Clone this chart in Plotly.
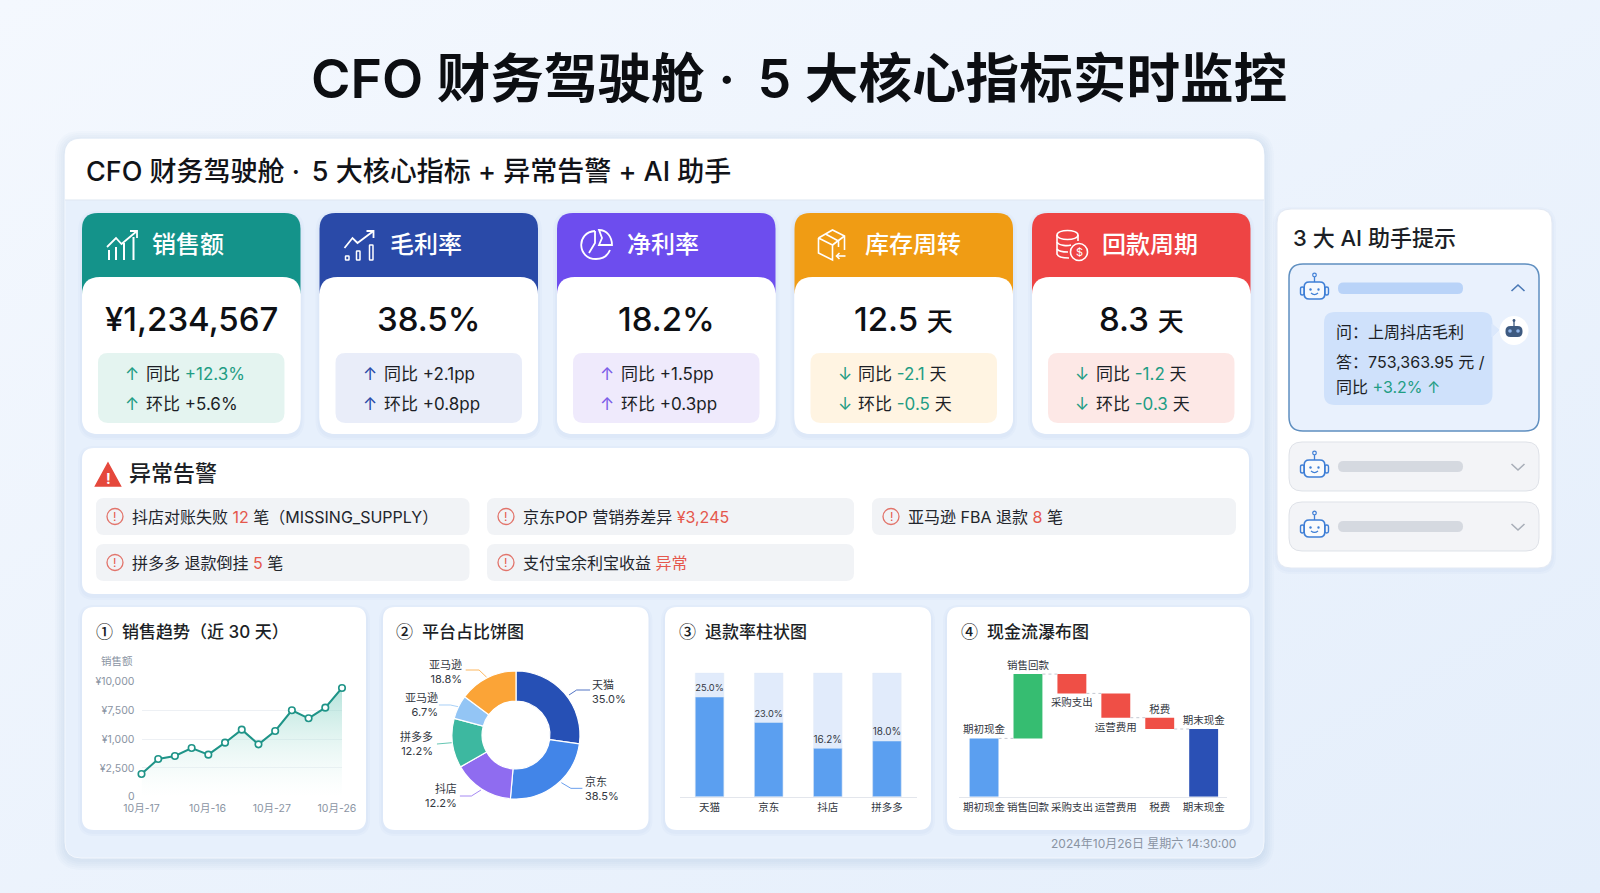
import base64

import numpy as np
import plotly.graph_objects as go

W = 1600
H = 893
FONT = "Inter, Noto Sans CJK SC"
INK = "#1c1f26"
GRAY = "#8a94a3"
GREEN = "#1f9d84"
RED = "#e5574c"

# KPI cards
kpi_names = ["销售额", "毛利率", "净利率", "库存周转", "回款周期"]
kpi_values = ["¥1,234,567", "38.5%", "18.2%", "12.5", "8.3"]
kpi_units = ["", "", "", "天", "天"]
kpi_arrows = ["↑", "↑", "↑", "↓", "↓"]
kpi_yoy = ["+12.3%", "+2.1pp", "+1.5pp", "-2.1", "-1.2"]
kpi_mom = ["+5.6%", "+0.8pp", "+0.3pp", "-0.5", "-0.3"]
kpi_head_colors = ["#14938a", "#2a4aa8", "#6d4dee", "#f09c14", "#ee4444"]
kpi_box_colors = ["#e4f4f0", "#e9edf9", "#efeafc", "#fff4e2", "#fde8e6"]
kpi_arrow_colors = ["#1f9d84", "#2a4aa8", "#7c5ce8", "#1f9d84", "#1f9d84"]

# sales trend
sales_values = [1965, 3266, 3526, 4220, 3642, 4682, 5809, 4538, 5694, 7486, 6792, 7717, 9422]
sales_ticks = [0, 2500, 5000, 7500, 10000]
sales_ticktext = ["0", "¥2,500", "¥1,000", "¥7,500", "¥10,000"]
sales_xticks = [0, 3.95, 7.8, 11.7]
sales_xlabels = ["10月-17", "10月-16", "10月-27", "10月-26"]

# platform donut: slice sizes as drawn, labels as printed
platform_names = ["天猫", "京东", "抖店", "拼多多", "亚马逊", "亚马逊"]
platform_slices = [27.2, 24.2, 15.3, 12.5, 6.0, 14.8]
platform_labels = ["35.0%", "38.5%", "12.2%", "12.2%", "6.7%", "18.8%"]
platform_colors = ["#2650b5", "#4285e8", "#8f6cf0", "#3db8a0", "#93c5f5", "#fba437"]

# refund bars: bar height as drawn (percent of track), labels as printed
refund_names = ["天猫", "京东", "抖店", "拼多多"]
refund_drawn = [80.4, 59.9, 39.0, 44.9]
refund_track = [100, 100, 100, 100]
refund_labels = ["25.0%", "23.0%", "16.2%", "18.0%"]

# cash waterfall
cash_names = ["期初现金", "销售回款", "采购支出", "运营费用", "税费", "期末现金"]
cash_steps = [58.3, 64.3, -19.3, -24.3, -11.3, 67.7]
cash_colors = ["#5b9ff0", "#36bd71", "#ef4f46", "#ef4f46", "#ef4f46", "#2a50b5"]
cash_label_pos = ["top center", "top center", "bottom center", "bottom center", "top center", "top center"]


def px(x):
    return x / W


def py(y):
    return 1 - y / H


def P(x, y):
    return f"{px(x):.5f},{py(y):.5f}"


shapes = []
notes = []


def rr_path(x0, y0, x1, y1, r):
    return (f"M{P(x0 + r, y0)} L{P(x1 - r, y0)} Q{P(x1, y0)} {P(x1, y0 + r)} "
            f"L{P(x1, y1 - r)} Q{P(x1, y1)} {P(x1 - r, y1)} L{P(x0 + r, y1)} "
            f"Q{P(x0, y1)} {P(x0, y1 - r)} L{P(x0, y0 + r)} Q{P(x0, y0)} {P(x0 + r, y0)} Z")


def add_path(path, fill="rgba(0,0,0,0)", line=None, width=0):
    shapes.append(dict(type="path", path=path, xref="paper", yref="paper", layer="below",
                       fillcolor=fill, line=dict(color=line or "rgba(0,0,0,0)", width=width)))


def rrect(x0, y0, x1, y1, r, fill, line=None, width=0):
    add_path(rr_path(x0, y0, x1, y1, r), fill, line, width)


def shadow(x0, y0, x1, y1, r, spread=6, alpha=0.025):
    for i in range(spread, 0, -2):
        rrect(x0 - i, y0 - i + 2, x1 + i, y1 + i + 2, r + i, f"rgba(60,100,170,{alpha})")


def polyline(points, color, width=1.5, closed=False, fill="rgba(0,0,0,0)"):
    path = "M" + " L".join(P(a, b) for a, b in points) + (" Z" if closed else "")
    add_path(path, fill, color, width)


def circle(cx, cy, r, fill="rgba(0,0,0,0)", line=None, width=0):
    shapes.append(dict(type="circle", xref="paper", yref="paper", layer="below",
                       x0=px(cx - r), x1=px(cx + r), y0=py(cy + r), y1=py(cy - r),
                       fillcolor=fill, line=dict(color=line or "rgba(0,0,0,0)", width=width)))


def label(x, y, text, size, color=INK, anchor="left", weight=400):
    notes.append(dict(xref="paper", yref="paper", x=px(x), y=py(y), text=text, showarrow=False,
                      xanchor=anchor, yanchor="middle", align=anchor, borderpad=0,
                      font=dict(family=FONT, size=size, color=color, weight=weight)))


def robot(cx, cy, color="#3f7fd6"):
    rrect(cx - 10.3, cy - 6, cx + 10.3, cy + 11, 5, "rgba(255,255,255,0.6)", color, 1.6)
    polyline([(cx, cy - 6), (cx, cy - 11)], color, 1.3)
    circle(cx, cy - 13, 1.8, "rgba(0,0,0,0)", color, 1.2)
    rrect(cx - 14, cy - 1, cx - 10.3, cy + 7, 1.8, "rgba(0,0,0,0)", color, 1.4)
    rrect(cx + 10.3, cy - 1, cx + 14, cy + 7, 1.8, "rgba(0,0,0,0)", color, 1.4)
    circle(cx - 4, cy + 1.5, 1.2, color)
    circle(cx + 4, cy + 1.5, 1.2, color)
    add_path(f"M{P(cx - 3.5, cy + 5)} Q{P(cx, cy + 8)} {P(cx + 3.5, cy + 5)}", line=color, width=1.2)


def icon_sales(x):
    c = "white"
    for dx, top in zip([27, 34, 42, 51.5], [250, 247, 243, 237]):
        polyline([(x + dx, top), (x + dx, 260)], c, 2)
    polyline([(x + 25, 247), (x + 34, 238), (x + 39.5, 244), (x + 55, 231)], c, 1.8)
    polyline([(x + 48, 231), (x + 55, 231), (x + 55, 238)], c, 1.8)


def icon_margin(x):
    c = "white"
    for dx, top in zip([26, 37, 50], [256, 251, 245]):
        rrect(x + dx, top, x + dx + 3.5, 260, 0.5, "rgba(0,0,0,0)", c, 1.5)
    polyline([(x + 25, 248), (x + 33, 238), (x + 38, 243), (x + 54, 231)], c, 1.8)
    polyline([(x + 47, 231), (x + 54, 231), (x + 54, 238)], c, 1.8)


def icon_pie(x):
    c = "white"
    cx = x + 39
    add_path(f"M{P(cx - 1, 231)} C{P(cx - 20, 232)} {P(cx - 19, 259)} {P(cx, 259)} "
             f"C{P(cx + 7, 259)} {P(cx + 12, 255)} {P(cx + 14, 250)}", line=c, width=1.8)
    polyline([(cx - 1, 231), (cx - 1, 243), (cx - 7, 253)], c, 1.8)
    add_path(f"M{P(cx + 3, 230)} C{P(cx + 11, 230)} {P(cx + 16, 237)} {P(cx + 16, 245)} "
             f"L{P(cx + 3, 245)} L{P(cx + 6, 238)} Z", line=c, width=1.8)


def icon_box(x):
    c = "white"
    polyline([(x + 24, 238), (x + 38, 230), (x + 50, 236), (x + 50, 250)], c, 1.6)
    polyline([(x + 24, 238), (x + 24, 253), (x + 38, 260), (x + 38, 245), (x + 24, 238)], c, 1.6)
    polyline([(x + 38, 245), (x + 50, 236)], c, 1.6)
    polyline([(x + 31, 234), (x + 44, 241), (x + 44, 247)], c, 1.6)
    polyline([(x + 42, 256), (x + 51, 256)], c, 1.6)
    polyline([(x + 45, 253), (x + 42, 256), (x + 45, 259)], c, 1.6)


def icon_coins(x):
    c = "white"
    left = x + 25
    add_path(f"M{P(left, 235)} C{P(left, 229)} {P(left + 21, 229)} {P(left + 21, 235)} "
             f"C{P(left + 21, 241)} {P(left, 241)} {P(left, 235)} Z", line=c, width=1.6)
    add_path(f"M{P(left, 242)} C{P(left + 2, 246)} {P(left + 11, 246)} {P(left + 14, 245)}", line=c, width=1.6)
    add_path(f"M{P(left, 249)} C{P(left + 2, 252)} {P(left + 8, 252)} {P(left + 11, 252)}", line=c, width=1.6)
    add_path(f"M{P(left, 235)} L{P(left, 254)} C{P(left + 1, 257)} {P(left + 7, 258)} {P(left + 12, 258)}",
             line=c, width=1.6)
    polyline([(left + 21, 235), (left + 21, 241)], c, 1.6)
    circle(left + 22, 252, 8.5, "rgba(0,0,0,0)", c, 1.6)
    label(left + 22, 252, "$", 11, "white", "center")


kpi_icons = [icon_sales, icon_margin, icon_pie, icon_box, icon_coins]

# page title and main panel
label(799, 78.5, "CFO 财务驾驶舱 ·\u2009 5 大核心指标实时监控", 53.6, "#0c0e12", "center", 600)
shadow(65, 139, 1264, 858, 16, spread=10, alpha=0.02)
rrect(65, 139, 1264, 858, 16, "#e7f0fc", "#f3f7fd", 1)
add_path(f"M{P(65, 200)} L{P(65, 155)} Q{P(65, 139)} {P(81, 139)} L{P(1248, 139)} "
         f"Q{P(1264, 139)} {P(1264, 155)} L{P(1264, 200)} Z", "white")
polyline([(65, 200), (1264, 200)], "#dfe7f2", 1)
label(85, 171.5, "CFO 财务驾驶舱 ·\u2009 5 大核心指标 + 异常告警 + AI 助手", 27, "#111318", "left", 500)

# KPI cards
for i, name in enumerate(kpi_names):
    x0 = 82 + i * 237.5
    x1 = x0 + 218.5
    shadow(x0, 213, x1, 434, 16, spread=4)
    rrect(x0, 277, x1, 434, 16, "white")
    rrect(x0, 213, x1, 305, 16, kpi_head_colors[i])
    rrect(x0, 277, x1, 434, 18, "white")
    kpi_icons[i](x0)
    label(x0 + 69, 245, name, 24, "white", "left", 500)
    value = kpi_values[i]
    if kpi_units[i]:
        value += f' <span style="font-size:26px">{kpi_units[i]}</span>'
    label(x0 + 109, 319, value, 33, "#0e1014", "center", 500)
    rrect(x0 + 16, 353, x0 + 202.5, 423, 10, kpi_box_colors[i])
    unit = " 天" if kpi_units[i] else ""
    first_color = GREEN if i in (0, 3, 4) else INK
    second_color = GREEN if i in (3, 4) else INK
    for y, tag, val, col in [(374, "同比", kpi_yoy[i], first_color), (404, "环比", kpi_mom[i], second_color)]:
        label(x0 + 50, y, kpi_arrows[i], 17, kpi_arrow_colors[i], "center")
        label(x0 + 63, y, f'{tag} <span style="color:{col}">{val}</span>{unit}', 17)

# alerts
shadow(82, 448, 1249, 594, 12, spread=4)
rrect(82, 448, 1249, 594, 12, "white")
polyline([(108, 463), (120.5, 486), (95.5, 486)], "#e5483c", 1.5, True, "#e5483c")
label(108, 478, "!", 14, "white", "center", 700)
label(128, 473, "异常告警", 22, INK, "left", 500)
alert_rows = [
    (96, 469.5, 498, 535, '抖店对账失败 <span style="color:#e5574c">12</span> 笔（MISSING_SUPPLY）'),
    (487, 854, 498, 535, '京东POP 营销券差异 <span style="color:#e5574c">¥3,245</span>'),
    (872, 1236, 498, 535, '亚马逊 FBA 退款 <span style="color:#e5574c">8</span> 笔'),
    (96, 469.5, 544, 581, '拼多多 退款倒挂 <span style="color:#e5574c">5</span> 笔'),
    (487, 854, 544, 581, '支付宝余利宝收益 <span style="color:#e5574c">异常</span>'),
]
for x0, x1, y0, y1, text in alert_rows:
    rrect(x0, y0, x1, y1, 8, "#f1f3f6")
    cy = (y0 + y1) / 2
    circle(x0 + 19, cy, 8, "rgba(0,0,0,0)", "#e2746b", 1.3)
    label(x0 + 19, cy, "!", 12, RED, "center")
    label(x0 + 35, cy, text, 16, "#22252c")

# chart cards
chart_cards = [(82, 366, 95, "①", " 销售趋势（近 30 天）"), (383, 648.5, 395, "②", " 平台占比饼图"),
               (665, 931, 677.5, "③", " 退款率柱状图"), (947, 1250, 960, "④", " 现金流瀑布图")]
for x0, x1, tx, mark, title in chart_cards:
    shadow(x0, 607, x1, 830, 12, spread=4)
    rrect(x0, 607, x1, 830, 12, "white")
    label(tx, 630, f"<span style=\"font-family:'Noto Sans CJK SC'\">{mark}</span>&nbsp;{title}", 17, INK, "left", 500)
label(116.5, 661, "销售额", 10.5, GRAY, "center")
label(1237, 843.5, "2024年10月26日 星期六 14:30:00", 12, GRAY, "right")

# side panel
shadow(1277, 209, 1552, 568, 14, spread=4)
rrect(1277, 209, 1552, 568, 14, "white", "#e3e9f3", 1)
label(1292, 238, "3 大 AI 助手提示", 22, INK, "left", 500)
rrect(1289, 264, 1539, 431, 14, "#e9f1fd", "#5f8fc0", 1.5)
robot(1314.5, 288)
rrect(1338, 282.5, 1463, 294, 5.5, "#b9d3f8")
polyline([(1511.5, 291), (1518, 285), (1524.5, 291)], "#4a78b5", 1.6)
rrect(1324, 312, 1492.5, 405, 11, "#cfe1fb")
polyline([(1492, 324), (1499, 330), (1492, 337)], "#dbe8fc", 1, True, "#dbe8fc")
circle(1514, 330.5, 14.5, "white")
rrect(1505.5, 326, 1522.5, 337, 5, "#3e5a80")
polyline([(1514, 326), (1514, 321)], "#3e5a80", 1.3)
circle(1514, 320.5, 1.4, "#3e5a80")
circle(1510, 331, 1.8, "#8fb4e8")
circle(1518, 331, 1.8, "#8fb4e8")
label(1335, 332, "问：上周抖店毛利", 16, INK)
label(1335, 362, "答：753,363.95 元 /", 16, INK)
label(1335, 386.5, '同比 <span style="color:#1f9d84">+3.2% ↑</span>', 16, INK)
for y0, y1, pill in [(442, 491, 461), (502, 551, 521)]:
    rrect(1289, y0, 1539, y1, 13, "#f3f4f7", "#dfe2e8", 1)
    robot(1314.5, pill + 5)
    rrect(1338, pill, 1463, pill + 11, 5.5, "#d5d9e0")
    polyline([(1511.5, pill + 3), (1518, pill + 9), (1524.5, pill + 3)], "#a8aeb8", 1.6)

# donut labels and leader lines
donut_text = [(591, 691.5, "left"), (583.5, 788.5, "left"), (458, 795.5, "right"),
              (434, 744, "right"), (439, 705, "right"), (463, 671.5, "right")]
donut_leaders = [[(1330, 285), (1350, 270), (1385, 270)], [(1310, 548), (1335, 565), (1365, 565)],
                 [(1100, 570), (1075, 588), (1045, 588)], [(1025, 428), (985, 432)],
                 [(1040, 320), (1020, 315), (990, 315)], [(1115, 232), (1095, 210), (1060, 210)]]
for i, (x, y, side) in enumerate(donut_text):
    label(x, y, f"{platform_names[i]}<br>{platform_labels[i]}", 11, "#333842", side)
    leader = [(60 + a / 2.613, 600 + b / 3) for a, b in donut_leaders[i]]
    polyline(leader, platform_colors[i], 0.8)

fig = go.Figure()

# 1: line chart
xs = list(range(len(sales_values)))
fig.add_trace(go.Scatter(
    x=xs, y=sales_values, mode="lines+markers", xaxis="x", yaxis="y", cliponaxis=False,
    line=dict(color="#1f9488", width=2),
    marker=dict(size=6.5, color="white", line=dict(color="#1f9488", width=1.6)),
    fill="tozeroy",
    fillgradient=dict(type="vertical", colorscale=[[0, "rgba(255,255,255,0.2)"], [1, "rgba(120,205,190,0.55)"]]),
    showlegend=False))

# 2: donut
fig.add_trace(go.Pie(
    values=platform_slices, labels=[f"{n} {v}" for n, v in zip(platform_names, platform_labels)],
    hole=0.53, sort=False, direction="clockwise", rotation=0, textinfo="none", showlegend=False,
    marker=dict(colors=platform_colors, line=dict(color="white", width=1.2)),
    domain=dict(x=[px(516 - 64), px(516 + 64)], y=[py(735 + 64), py(735 - 64)])))

# 3: refund bars
fig.add_trace(go.Bar(x=refund_names, y=refund_track, xaxis="x3", yaxis="y3", width=0.483,
                     marker=dict(color="#e1ebfb"), showlegend=False))
fig.add_trace(go.Bar(x=refund_names, y=refund_drawn, xaxis="x3", yaxis="y3", width=0.483,
                     marker=dict(color="#5b9ff0"), text=refund_labels, textposition="outside",
                     textfont=dict(family=FONT, size=11, color="#333842"), cliponaxis=False, showlegend=False))

# 4: waterfall, bars float on the running total
steps = np.array(cash_steps)
levels = np.cumsum(steps[:-1])
bases = [0.0] + [min(levels[i], levels[i + 1]) for i in range(len(levels) - 1)] + [0.0]
heights = np.abs(steps)
tops = np.array(bases) + heights
fig.add_trace(go.Bar(x=xs[:6], y=heights, base=bases, xaxis="x4", yaxis="y4", width=0.658,
                     marker=dict(color=cash_colors, line=dict(width=0)), showlegend=False))
conn_x = []
conn_y = []
for i, level in enumerate(levels):
    conn_x += [i + 0.33, i + 0.67, None]
    conn_y += [level, level, None]
fig.add_trace(go.Scatter(x=conn_x, y=conn_y, mode="lines", xaxis="x4", yaxis="y4", showlegend=False,
                         line=dict(color="#c4c9d2", width=1, dash="dot")))
label_y = [tops[i] + 2.5 if "top" in cash_label_pos[i] else bases[i] - 5 for i in range(6)]
fig.add_trace(go.Scatter(x=xs[:6], y=label_y, mode="text", text=cash_names, textposition=cash_label_pos,
                         xaxis="x4", yaxis="y4", cliponaxis=False, showlegend=False,
                         textfont=dict(family=FONT, size=10.5, color="#333842")))

tick_font = dict(family=FONT, size=10.5, color="#8a94a3")
dark_tick = dict(family=FONT, size=10.5, color="#333842")

fig.update_layout(
    width=W, height=H, margin=dict(l=0, r=0, t=0, b=0, pad=0, autoexpand=False), autosize=False,
    paper_bgcolor="#eaf2fc", plot_bgcolor="rgba(0,0,0,0)",
    barmode="overlay", font=dict(family=FONT), shapes=shapes, annotations=notes,
    xaxis=dict(domain=[px(141.5), px(342)], range=[0, 12], tickvals=sales_xticks, ticktext=sales_xlabels,
               tickfont=tick_font, showgrid=False, zeroline=False, showline=False, ticks="", tickangle=0,
               ticklabelstandoff=4),
    yaxis=dict(domain=[py(796.7), py(681.3)], range=[0, 10000], tickvals=sales_ticks, ticktext=sales_ticktext,
               tickfont=tick_font, gridcolor="#edf0f4", gridwidth=1, zeroline=False, ticks="",
               ticklabelstandoff=6),
    xaxis3=dict(domain=[px(680), px(916.5)], range=[-0.5, 3.5], anchor="y3", tickfont=dark_tick,
                showgrid=False, zeroline=False, showline=True, linecolor="#e3e6ec", ticks="", tickangle=0,
                ticklabelstandoff=1),
    yaxis3=dict(domain=[py(796.7), py(672.7)], range=[0, 100], anchor="x3", visible=False),
    xaxis4=dict(domain=[px(959), px(1226.5)], range=[-0.57, 5.52], anchor="y4", tickvals=xs[:6],
                ticktext=cash_names, tickfont=dark_tick, showgrid=False, zeroline=False,
                showline=True, linecolor="#e3e6ec", ticks="", tickangle=0, ticklabelstandoff=1),
    yaxis4=dict(domain=[py(796.7), py(660)], range=[0, 136.7], anchor="x4", visible=False),
)

# soft page gradient behind everything
svg = ('<svg xmlns="http://www.w3.org/2000/svg" width="1600" height="893"><defs>'
       '<linearGradient id="g" x1="0" y1="0" x2="1" y2="1"><stop offset="0" stop-color="#f4f8fe"/>'
       '<stop offset="1" stop-color="#e4eefb"/></linearGradient></defs>'
       '<rect width="1600" height="893" fill="url(#g)"/></svg>')
fig.add_layout_image(dict(source="data:image/svg+xml;base64," + base64.b64encode(svg.encode()).decode(),
                          xref="paper", yref="paper", x=0, y=1, sizex=1, sizey=1, sizing="stretch",
                          xanchor="left", yanchor="top", layer="below"))

fig.write_html("out.html", config=dict(displayModeBar=False),
               post_script="document.body.style.margin='0';document.body.style.overflow='hidden';")
